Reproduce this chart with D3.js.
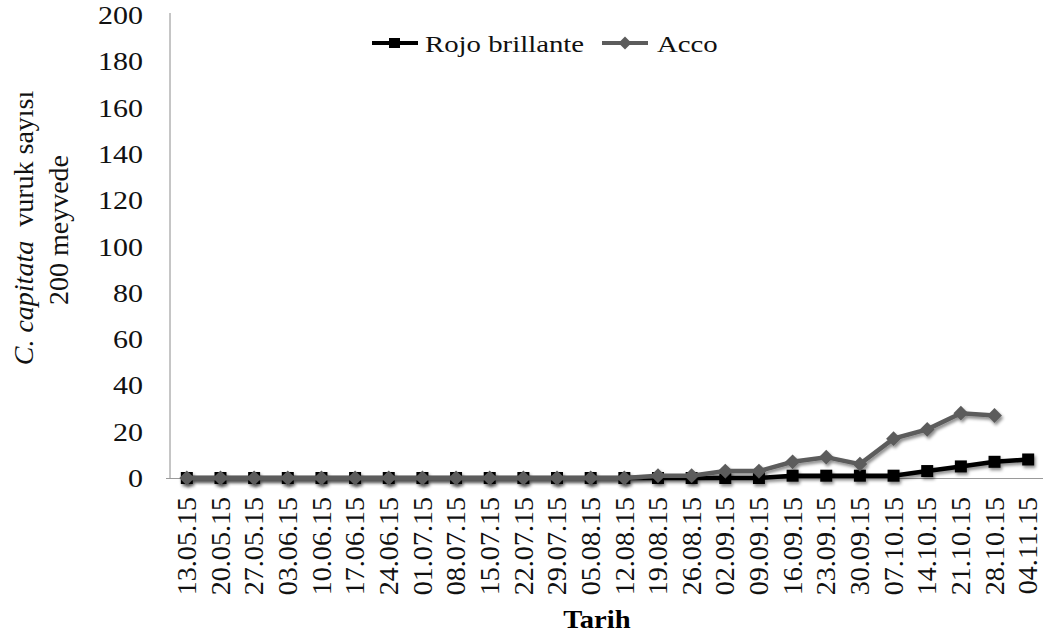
<!DOCTYPE html>
<html><head><meta charset="utf-8">
<script src="https://cdn.jsdelivr.net/npm/d3@7"></script>
<style>body{margin:0;background:#fff}svg{display:block}text{font-family:"Liberation Serif","Times New Roman",Tinos,"DejaVu Serif",serif}</style>
</head><body>
<svg id="c" width="1043" height="636"></svg>
<script>
const dates = ["13.05.15","20.05.15","27.05.15","03.06.15","10.06.15","17.06.15","24.06.15","01.07.15","08.07.15","15.07.15","22.07.15","29.07.15","05.08.15","12.08.15","19.08.15","26.08.15","02.09.15","09.09.15","16.09.15","23.09.15","30.09.15","07.10.15","14.10.15","21.10.15","28.10.15","04.11.15"];
const rojo = [0,0,0,0,0,0,0,0,0,0,0,0,0,0,0,0,0,0,1,1,1,1,3,5,7,8];
const acco = [0,0,0,0,0,0,0,0,0,0,0,0,0,0,1,1,3,3,7,9,6,17,21,28,27,null];
const yTicks = [0,20,40,60,80,100,120,140,160,180,200];

const FF = '"Liberation Serif","Times New Roman",Tinos,"DejaVu Serif",serif';
const svg = d3.select("#c");
const x = d3.scaleBand().domain(dates).range([170,1045]);
const y = d3.scaleLinear().domain([0,200]).range([478,15]);

const defs = svg.append("defs");
const f = defs.append("filter").attr("id","sh").attr("x","-20%").attr("y","-20%").attr("width","140%").attr("height","160%");
f.append("feDropShadow").attr("dx",1.5).attr("dy",2.5).attr("stdDeviation",1.8).attr("flood-color","#000").attr("flood-opacity",0.45);

// y axis
const yAx = svg.append("g").attr("transform","translate(170,0)")
  .call(d3.axisLeft(y).tickValues(yTicks).tickSize(0).tickPadding(0));
yAx.attr("font-family",FF);
yAx.select(".domain").attr("stroke","#8c8c8c").attr("d","M0,13V478");
yAx.selectAll("text").attr("font-size",25).attr("fill","#111").attr("font-family",FF)
  .attr("x",0).attr("dy","0.34em").attr("transform","translate(-27,0) scale(1.2,1)");

// x axis
const xAx = svg.append("g").attr("transform","translate(0,478)")
  .call(d3.axisBottom(x).tickSize(0).tickPadding(0));
xAx.attr("font-family",FF);
xAx.select(".domain").attr("stroke","#9a9a9a").attr("d","M166,0.5H1043");
xAx.selectAll("text").attr("font-size",27).attr("fill","#111").attr("font-family",FF)
  .attr("text-anchor","end").attr("dy","0.34em")
  .attr("transform","translate(0,19) rotate(-90) scale(1.04,1)").attr("x",0).attr("y",0);

const cx = d => x(d) + x.bandwidth()/2;
const line = d3.line().defined(d => d.v != null).x(d => cx(d.d)).y(d => y(d.v));

const rData = dates.map((d,i)=>({d, v: rojo[i]}));
const aData = dates.map((d,i)=>({d, v: acco[i]}));

const gR = svg.append("g").attr("filter","url(#sh)");
gR.append("path").datum(rData).attr("d",line).attr("fill","none").attr("stroke","#000").attr("stroke-width",4.5);
gR.selectAll("rect").data(rData).join("rect")
  .attr("x",d=>cx(d.d)-6).attr("y",d=>y(d.v)-6).attr("width",12).attr("height",12).attr("fill","#000");

const gA = svg.append("g").attr("filter","url(#sh)");
gA.append("path").datum(aData).attr("d",line).attr("fill","none").attr("stroke","#5c5c5c").attr("stroke-width",4.5);
const dia = d3.symbol().type(d3.symbolSquare).size(110);
gA.selectAll("path.m").data(aData.filter(d=>d.v!=null)).join("path").attr("class","m")
  .attr("d",dia).attr("transform",d=>`translate(${cx(d.d)},${y(d.v)}) rotate(45)`).attr("fill","#5c5c5c");

// legend
const lg = svg.append("g");
lg.append("line").attr("x1",372).attr("x2",418).attr("y1",43).attr("y2",43).attr("stroke","#000").attr("stroke-width",4);
lg.append("rect").attr("x",389).attr("y",38).attr("width",11).attr("height",10).attr("fill","#000");
lg.append("text").attr("transform","translate(425,52) scale(1.2,1)").attr("font-size",24).attr("fill","#111").text("Rojo brillante");
lg.append("line").attr("x1",602).attr("x2",648).attr("y1",43).attr("y2",43).attr("stroke","#5c5c5c").attr("stroke-width",4);
lg.append("path").attr("d",d3.symbol().type(d3.symbolSquare).size(85)).attr("transform","translate(625,43) rotate(45)").attr("fill","#5c5c5c");
lg.append("text").attr("transform","translate(657,52) scale(1.2,1)").attr("font-size",24).attr("fill","#111").text("Acco");

// axis titles
svg.append("text").attr("transform","translate(597,628) scale(1.1,1)").attr("text-anchor","middle").attr("font-size",26).attr("font-weight","bold").attr("fill","#000").text("Tarih");
const yt = svg.append("text").attr("transform","translate(33,228) rotate(-90)").attr("text-anchor","middle").attr("font-size",28).attr("fill","#111");
yt.append("tspan").attr("font-style","italic").text("C. capitata");
yt.append("tspan").text("\u00a0 vuruk sayısı");
svg.append("text").attr("transform","translate(68,230) rotate(-90)").attr("text-anchor","middle").attr("font-size",28).attr("fill","#111").text("200 meyvede");
</script>
</body></html>
